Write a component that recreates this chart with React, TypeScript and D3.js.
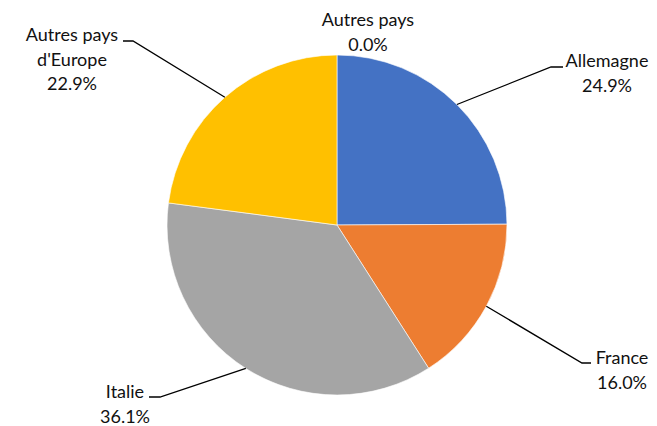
import React from "react";
import * as d3 from "d3";

const categories = ["Allemagne", "France", "Italie", "Autres pays d'Europe", "Autres pays"];
const values = [24.9, 16.0, 36.1, 22.9, 0.0];
const colors = ["#4472C4", "#ED7D31", "#A5A5A5", "#FFC000", "#5B9BD5"];
// label text lines (category broken as in the reference)
const labelLines = [["Allemagne"], ["France"], ["Italie"], ["Autres pays", "d'Europe"], ["Autres pays"]];

const W = 657;
const H = 426;
const cx = 337;
const cy = 225;
const R = 170;
const lineH = 24.5;

// layout of labels: elbow point, horizontal segment end, text centre x, first baseline y
const labelLayout = [
  { elbow: [551, 67], end: [563, 67], tx: 607, ty: 67, leader: true },
  { elbow: [582, 363], end: [591, 363], tx: 622, ty: 364, leader: true },
  { elbow: [160, 397], end: [149, 397], tx: 125, ty: 398, leader: true },
  { elbow: [133, 41], end: [123, 41], tx: 72, ty: 41, leader: true },
  { elbow: [0, 0], end: [0, 0], tx: 368, ty: 26, leader: false },
];

export default function App() {
  const data = categories.map((c, i) => ({ c, v: values[i], i }));
  const pie = d3
    .pie<any>()
    .sort(null)
    .value((d) => d.v)
    .startAngle(0)
    .endAngle(2 * Math.PI);
  const arcs = pie(data);
  const arc = d3.arc<any>().innerRadius(0).outerRadius(R);
  const fmt = d3.format(".1f");

  return (
    <svg
      width={W}
      height={H}
      style={{ position: "absolute", left: 0, top: 0, background: "#fff" }}
      fontFamily="Lato, 'Open Sans', sans-serif"
    >
      <rect width={W} height={H} fill="#fff" />
      <g transform={`translate(${cx},${cy})`}>
        {arcs.map((a, i) =>
          a.endAngle - a.startAngle > 0 ? (
            <path key={i} d={arc(a) as string} fill={colors[i]} stroke="#fff" strokeWidth={0.6} />
          ) : null
        )}
      </g>
      {arcs.map((a, i) => {
        const L = labelLayout[i];
        const mid = (a.startAngle + a.endAngle) / 2;
        const px = cx + Math.sin(mid) * R;
        const py = cy - Math.cos(mid) * R;
        const lines = [...labelLines[i], fmt(values[i]) + "%"];
        return (
          <g key={i}>
            {L.leader && (
              <polyline
                points={`${px},${py} ${L.elbow[0]},${L.elbow[1]} ${L.end[0]},${L.end[1]}`}
                fill="none"
                stroke="#000"
                strokeWidth={1.3}
              />
            )}
            <text textAnchor="middle" fontSize={18} fill="#111">
              {lines.map((t, k) => (
                <tspan key={k} x={L.tx} y={L.ty + k * lineH}>
                  {t}
                </tspan>
              ))}
            </text>
          </g>
        );
      })}
    </svg>
  );
}
